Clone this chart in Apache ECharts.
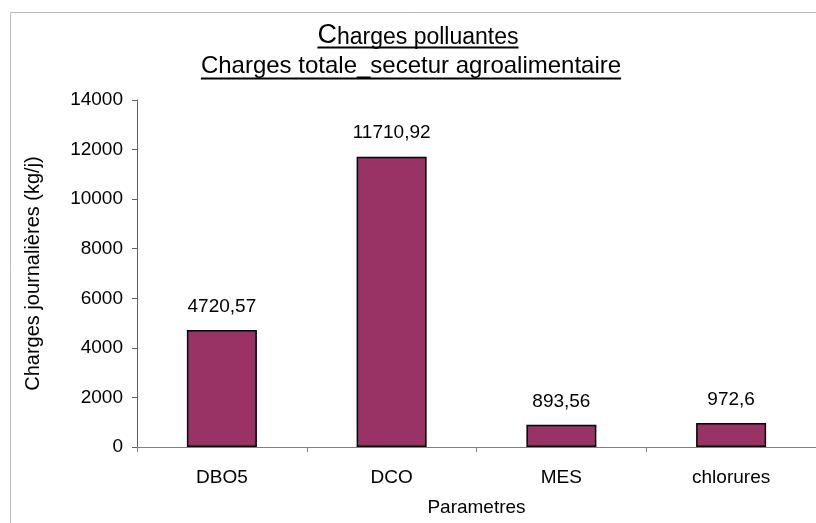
<!DOCTYPE html>
<html>
<head>
<meta charset="utf-8">
<script src="https://cdn.jsdelivr.net/npm/echarts@6/dist/echarts.min.js"></script>
<style>
html,body{margin:0;padding:0;background:#fff;}
#chart{width:816px;height:523px;}
</style>
</head>
<body>
<div id="chart"></div>
<script>
var categories = ['DBO5', 'DCO', 'MES', 'chlorures'];
var values = [4720.57, 11710.92, 893.56, 972.6];
var yTicks = [0, 2000, 4000, 6000, 8000, 10000, 12000, 14000];
var titleLine1 = 'Charges polluantes';
var titleLine2 = 'Charges totale_secetur agroalimentaire';
var yName = 'Charges journalières (kg/j)';
var xName = 'Parametres';

var FONT = '"Liberation Sans", Arial, Helvetica, sans-serif';

function measure(text, size) {
  var c = document.createElement('canvas').getContext('2d');
  c.font = size + 'px ' + FONT;
  return c.measureText(text).width;
}

var chart = echarts.init(document.getElementById('chart'), null, {renderer: 'canvas'});

var cx1 = 418, cx2 = 411;
var w1 = measure('C', 27) + measure(titleLine1.slice(1), 23);
var w2 = measure(titleLine2, 24);
var y1 = 47, y2 = 78;

var option = {
  animation: false,
  backgroundColor: '#ffffff',
  textStyle: {fontFamily: FONT},
  graphic: [
    {type: 'rect', shape: {x: 10.5, y: 12.5, width: 1000, height: 1000},
     style: {fill: 'none', stroke: '#c0c0c0', lineWidth: 1}, silent: true, z: -1},
    {type: 'text', left: cx1 - w1 / 2, top: y1 - 25,
     style: {text: '{big|C}{n|' + titleLine1.slice(1) + '}', rich: {
       big: {fontSize: 27, fontFamily: FONT, fill: '#000', verticalAlign: 'bottom'},
       n: {fontSize: 23, fontFamily: FONT, fill: '#000', verticalAlign: 'bottom'}
     }}},
    {type: 'line', shape: {x1: cx1 - w1 / 2, y1: y1 + 0.5, x2: cx1 + w1 / 2, y2: y1 + 0.5},
     style: {stroke: '#000', lineWidth: 2}},
    {type: 'text', left: cx2 - w2 / 2, top: y2 - 24,
     style: {text: titleLine2, fontSize: 24, fontFamily: FONT, fill: '#000'}},
    {type: 'line', shape: {x1: cx2 - w2 / 2, y1: y2 + 0.5, x2: cx2 + w2 / 2, y2: y2 + 0.5},
     style: {stroke: '#000', lineWidth: 2}}
  ],
  grid: {left: 137, top: 100, width: 692, height: 347, containLabel: false},
  xAxis: {
    type: 'category',
    data: categories,
    boundaryGap: true,
    name: xName,
    nameLocation: 'middle',
    nameGap: 51,
    nameTextStyle: {fontSize: 19, color: '#000', fontFamily: FONT},
    axisLine: {show: true, lineStyle: {color: '#808080', width: 1}},
    axisTick: {show: true, length: 5, alignWithLabel: false, lineStyle: {color: '#808080'}},
    axisLabel: {fontSize: 19, color: '#000', margin: 21, fontFamily: FONT, interval: 0},
    splitLine: {show: false}
  },
  yAxis: {
    type: 'value',
    min: 0,
    max: 14000,
    interval: 2000,
    name: yName,
    nameLocation: 'middle',
    nameGap: 94,
    nameRotate: 90,
    nameTextStyle: {fontSize: 20, color: '#000', fontFamily: FONT},
    axisLine: {show: true, lineStyle: {color: '#606060', width: 1}},
    axisTick: {show: true, length: 5, lineStyle: {color: '#606060'}},
    axisLabel: {fontSize: 19, color: '#000', margin: 14, fontFamily: FONT,
      formatter: function (v) { return yTicks.indexOf(v) >= 0 ? String(v) : ''; }},
    splitLine: {show: false}
  },
  series: [{
    type: 'bar',
    data: values,
    barWidth: 70,
    itemStyle: {color: '#993366', borderColor: '#000', borderWidth: 1.5},
    label: {
      show: true, position: 'top', distance: 14,
      fontSize: 19, color: '#000', fontFamily: FONT,
      formatter: function (p) { return String(p.value).replace('.', ','); }
    }
  }]
};
chart.setOption(option);
</script>
</body>
</html>
